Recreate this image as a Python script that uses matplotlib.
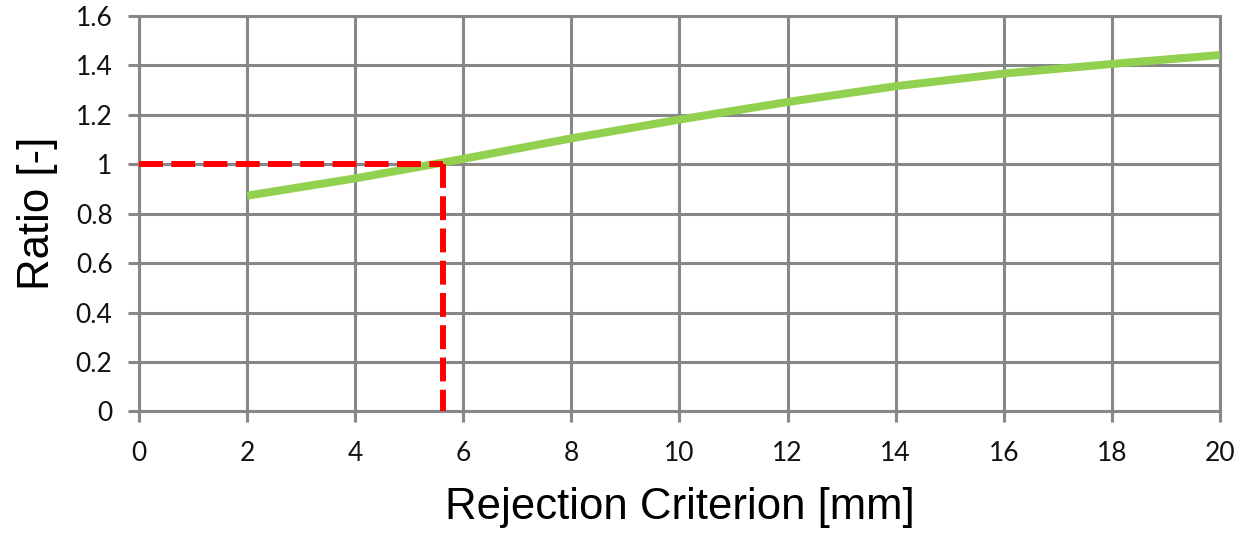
import matplotlib
matplotlib.use("Agg")
import matplotlib.pyplot as plt

# Data
criterion_mm = [2, 4, 6, 8, 10, 12, 14, 16, 18, 20]
ratio = [0.873, 0.943, 1.022, 1.105, 1.181, 1.252, 1.316, 1.367, 1.406, 1.442]
threshold_x = 5.62
threshold_y = 1.0
x_ticks = [0, 2, 4, 6, 8, 10, 12, 14, 16, 18, 20]
y_ticks = [0, 0.2, 0.4, 0.6, 0.8, 1.0, 1.2, 1.4, 1.6]
y_ticklabels = ["0", "0.2", "0.4", "0.6", "0.8", "1", "1.2", "1.4", "1.6"]

grid_color = "#878787"

fig = plt.figure(figsize=(12.43, 5.33), dpi=100)
ax = fig.add_axes([0.1118, 0.228, 0.8697, 0.742])

ax.set_xlim(0, 20)
ax.set_ylim(0, 1.6)
ax.set_xticks(x_ticks)
ax.set_yticks(y_ticks)
ax.set_yticklabels(y_ticklabels)

ax.grid(True, color=grid_color, linewidth=2.2, zorder=0)
ax.set_axisbelow(True)
for s in ax.spines.values():
    s.set_color(grid_color)
    s.set_linewidth(2.2)

ax.tick_params(axis="both", direction="out", length=8, width=2.2, color=grid_color,
               labelsize=19)
ax.tick_params(axis="x", pad=13)
ax.tick_params(axis="y", pad=11)
for lbl in ax.get_xticklabels() + ax.get_yticklabels():
    lbl.set_family(["Lato", "DejaVu Sans"])
    lbl.set_color("#111111")

ax.plot(criterion_mm, ratio, color="#92D050", linewidth=5.8, solid_capstyle="butt", zorder=3)

ax.plot([0, threshold_x], [threshold_y, threshold_y], color="#FF0000", linewidth=4.3,
        dashes=(4, 1.4), zorder=4, clip_on=False)
ax.plot([threshold_x, threshold_x], [threshold_y, 0], color="#FF0000", linewidth=4.3,
        dashes=(4, 1.4), zorder=4, clip_on=False)

ax.set_xlabel("Rejection Criterion [mm]", fontsize=31.5, family=["Liberation Sans", "DejaVu Sans"])
ax.set_ylabel("Ratio [-]", fontsize=31.5, family=["Liberation Sans", "DejaVu Sans"])
ax.xaxis.set_label_coords(0.5, -0.19)
ax.yaxis.set_label_coords(-0.075, 0.5)

fig.savefig("out.png", dpi=100, facecolor="white")
